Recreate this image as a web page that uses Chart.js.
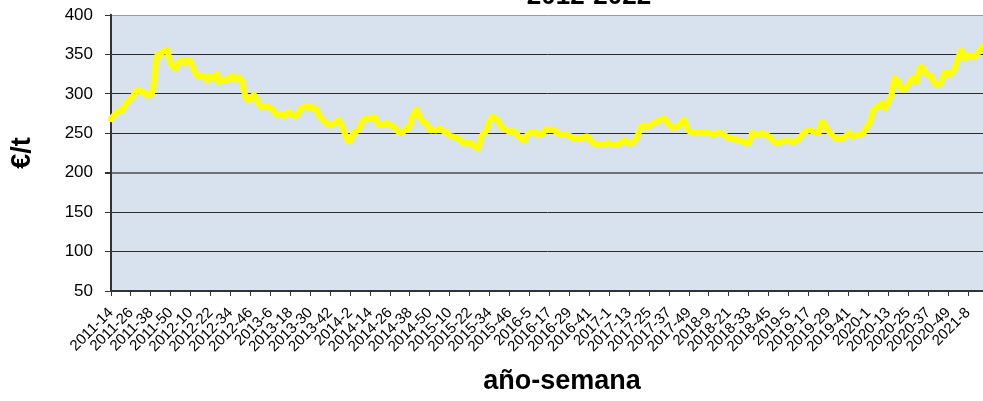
<!DOCTYPE html>
<html>
<head>
<meta charset="utf-8">
<script src="https://cdn.jsdelivr.net/npm/chart.js@4/dist/chart.umd.min.js"></script>
<style>
  html, body { margin: 0; padding: 0; background: #ffffff; }
  #wrap { position: relative; width: 983px; height: 401px; }
</style>
</head>
<body>
<div id="wrap"><canvas id="c"></canvas></div>
<script>
// ---- data ----
const chartTitle = "2012-2022";
const yAxisTitle = "€/t";
const xAxisTitle = "año-semana";

// weekly categories: first week 2011-14
const years = [2011, 2012, 2013, 2014, 2015, 2016, 2017, 2018, 2019, 2020, 2021];
const weeksInYear = [52, 52, 52, 52, 53, 52, 52, 52, 52, 53, 52];
const firstWeek = 14;
const labelEvery = 12;

// price, €/t, one value per week
const prices = [
  268,271,273,275,277,278,280,279,283,287,
  290,292,294,296,300,303,305,304,303,303,
  301,299,298,300,298,303,315,340,350,347,
  350,353,354,356,355,346,339,336,333,332,
  336,340,342,340,339,342,341,343,341,335,
  330,327,323,322,323,322,321,322,317,320,
  322,321,320,322,325,315,318,317,318,317,
  319,318,320,323,321,318,320,321,318,316,
  305,296,293,292,294,296,299,296,291,287,
  285,283,284,285,284,283,282,281,278,275,
  274,273,273,274,272,273,275,277,275,273,
  273,272,273,276,280,282,283,284,285,283,
  282,283,282,282,279,273,271,268,266,265,
  262,260,260,261,262,263,265,267,264,260,
  254,248,243,240,240,245,251,252,253,254,
  258,264,267,268,268,268,269,269,270,270,
  265,261,261,262,261,262,263,261,260,260,
  258,257,254,252,250,251,252,255,256,256,
  260,268,273,277,280,275,270,267,265,263,
  262,258,254,254,255,254,254,255,256,255,
  253,252,252,249,247,246,246,245,244,243,
  242,239,238,237,237,238,237,237,235,233,
  232,231,238,246,249,251,253,260,265,270,
  271,269,268,267,262,258,257,255,254,253,
  252,252,253,251,250,247,245,243,242,241,
  246,249,250,251,250,250,251,249,248,248,
  250,253,255,255,254,255,254,254,252,250,
  249,249,248,248,248,247,247,246,244,243,
  243,244,243,243,244,245,246,246,243,240,
  238,237,236,236,235,235,235,236,237,237,
  237,236,235,235,235,236,236,238,240,241,
  240,238,237,237,238,240,243,246,252,258,
  260,260,259,258,259,261,262,263,264,265,
  266,267,268,269,267,263,261,259,257,257,
  258,258,260,262,265,267,262,256,253,252,
  251,250,250,251,252,251,251,251,250,250,
  250,250,249,249,249,250,251,250,249,248,
  247,245,244,243,243,243,242,242,241,240,
  240,239,238,237,238,244,250,250,249,249,
  249,250,250,249,249,248,246,244,242,240,
  238,237,238,239,240,240,240,240,240,240,
  240,239,240,241,243,245,248,250,252,253,
  254,254,253,252,252,251,250,258,264,263,
  260,256,253,250,248,246,244,243,243,243,
  243,244,246,248,250,249,247,246,247,248,
  248,249,249,250,254,258,261,264,272,279,
  281,283,284,286,288,285,282,286,290,295,
  299,312,320,318,315,310,306,305,307,309,
  311,315,318,320,317,315,325,333,334,332,
  328,325,324,323,322,316,313,312,311,313,
  315,321,327,327,326,324,326,329,332,338,
  345,351,355,350,345,346,348,349,348,347,
  347,349,352,355,357,360
];

const yMin = 50, yMax = 400, yStep = 50;

// build week categories "year-week"
const weekLabels = [];
{
  let yi = 0, w = firstWeek;
  while (weekLabels.length < prices.length) {
    weekLabels.push(years[yi] + "-" + w);
    w++;
    if (w > weeksInYear[yi]) { w = 1; yi++; }
  }
}

const FONT = '"Liberation Sans", Arial, Helvetica, sans-serif';

const plotBg = {
  id: 'plotBg',
  beforeDraw(chart) {
    const a = chart.chartArea;
    const ctx = chart.ctx;
    ctx.save();
    ctx.fillStyle = '#D7E2EE';
    ctx.fillRect(a.left, a.top, a.right - a.left, a.bottom - a.top);
    ctx.restore();
  }
};

const extraTitles = {
  id: 'extraTitles',
  afterDraw(chart) {
    const ctx = chart.ctx;
    ctx.save();
    ctx.fillStyle = '#000';
    ctx.textAlign = 'center';
    ctx.textBaseline = 'alphabetic';
    ctx.font = 'bold 26px ' + FONT;
    ctx.fillText(chartTitle, 589, 4);
    ctx.font = 'bold 27px ' + FONT;
    ctx.fillText(xAxisTitle, 562, 389);
    ctx.restore();
  }
};

new Chart(document.getElementById('c'), {
  type: 'line',
  data: {
    labels: weekLabels,
    datasets: [{
      data: prices,
      borderColor: '#FFFF00',
      backgroundColor: '#FFFF00',
      borderWidth: 6,
      pointRadius: 0,
      tension: 0,
      borderJoinStyle: 'round',
      borderCapStyle: 'round',
      fill: false
    }]
  },
  options: {
    responsive: true,
    maintainAspectRatio: false,
    animation: false,
    devicePixelRatio: 1,
    layout: { padding: { top: 15, left: 0, right: 0, bottom: 0 } },
    plugins: {
      legend: { display: false },
      tooltip: { enabled: false },
      title: { display: false }
    },
    scales: {
      x: {
        type: 'category',
        offset: false,
        afterBuildTicks(scale) {
          scale.ticks = scale.ticks.filter(t => t.value % labelEvery === 0);
        },
        afterFit(scale) {
          scale.height = 110;
          scale.paddingTop = 0; scale.paddingBottom = 0; scale.paddingRight = 0;
        },
        ticks: {
          autoSkip: false,
          minRotation: 45,
          maxRotation: 45,
          padding: 8,
          color: '#000',
          font: { family: FONT, size: 15 }
        },
        grid: {
          display: true,
          drawOnChartArea: false,
          drawTicks: true,
          tickLength: 5,
          color: '#333',
          tickColor: '#333',
          lineWidth: 1
        },
        border: { display: true, color: '#333', width: 2 }
      },
      y: {
        min: yMin,
        max: yMax,
        afterFit(scale) {
          scale.width = 111;
          scale.paddingTop = 0; scale.paddingBottom = 0;
        },
        ticks: {
          stepSize: yStep,
          padding: 12,
          color: '#000',
          font: { family: FONT, size: 17 }
        },
        grid: {
          drawTicks: true,
          tickLength: 6,
          tickColor: '#333',
          color: ctx => ctx.tick && ctx.tick.value === 400 ? '#9a9a9a'
                       : (ctx.tick && ctx.tick.value === 200 ? '#6e7279' : '#2b2b2b'),
          lineWidth: ctx => ctx.tick && ctx.tick.value === 200 ? 2 : 1
        },
        border: { display: true, color: '#333', width: 2 },
        title: {
          display: true,
          text: yAxisTitle,
          color: '#000',
          font: { family: FONT, size: 27, weight: 'bold' },
          padding: { top: 6, bottom: 0 }
        }
      }
    }
  },
  plugins: [plotBg, extraTitles]
});
</script>
</body>
</html>
